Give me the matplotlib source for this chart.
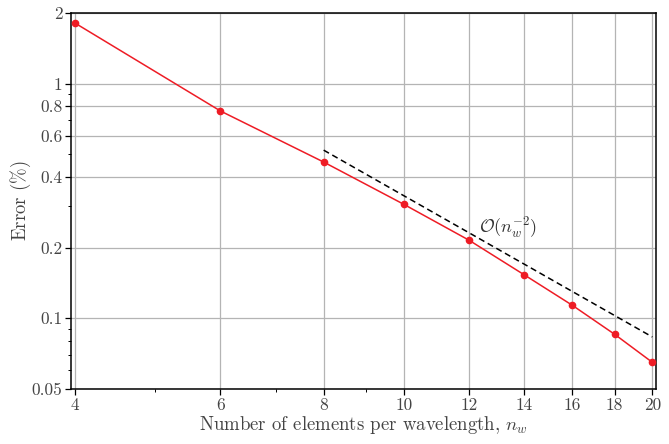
import matplotlib
matplotlib.use("Agg")
import matplotlib.pyplot as plt
import numpy as np
from matplotlib.ticker import FixedLocator, FixedFormatter, NullFormatter

plt.rcParams['font.family'] = 'serif'
plt.rcParams['font.serif'] = ['cmr10', 'DejaVu Serif']
plt.rcParams['mathtext.fontset'] = 'cm'
plt.rcParams['axes.unicode_minus'] = False

# elements per wavelength and error (%)
n_w = [4, 6, 8, 10, 12, 14, 16, 18, 20]
error = [1.81, 0.764, 0.463, 0.306, 0.215, 0.153, 0.1136, 0.0855, 0.0649]

# reference slope line
ref_n = [8, 20]
ref_c = 33.3

x_ticks = [4, 6, 8, 10, 12, 14, 16, 18, 20]
y_ticks = [0.05, 0.1, 0.2, 0.4, 0.6, 0.8, 1, 2]
y_labels = ['0.05', '0.1', '0.2', '0.4', '0.6', '0.8', '1', '2']

fig, ax = plt.subplots(figsize=(6.69, 4.44), dpi=100)
fig.subplots_adjust(left=0.106, right=0.981, top=0.971, bottom=0.124)

ref_x = np.array(ref_n, dtype=float)
ax.plot(ref_x, ref_c / ref_x**2, color='black', ls=(0, (4, 2.5)), lw=1.1, zorder=3)
ax.plot(n_w, error, color='#ee1c25', lw=1.1, marker='o', ms=4.5, zorder=4)

ax.text(12.35, 0.242, r'$\mathcal{O}(n_w^{-2})$', fontsize=13, color='#333333',
        va='center', ha='left')

ax.set_xscale('log')
ax.set_yscale('log')
ax.set_xlim(3.955, 20.22)
ax.set_ylim(0.05, 2)

ax.xaxis.set_major_locator(FixedLocator(x_ticks))
ax.xaxis.set_major_formatter(FixedFormatter([str(v) for v in x_ticks]))
ax.xaxis.set_minor_locator(FixedLocator([5, 7, 9]))
ax.xaxis.set_minor_formatter(NullFormatter())
ax.yaxis.set_major_locator(FixedLocator(y_ticks))
ax.yaxis.set_major_formatter(FixedFormatter(y_labels))
ax.yaxis.set_minor_locator(FixedLocator([0.06, 0.07, 0.08, 0.09, 0.3, 0.5, 0.7, 0.9]))
ax.yaxis.set_minor_formatter(NullFormatter())

ax.grid(True, which='major', color='#b4b4b4', lw=0.9)
ax.tick_params(which='major', length=4, width=0.9, labelsize=12.5, labelcolor='#444444', pad=2)
ax.tick_params(which='minor', length=2, width=0.7)
for s in ax.spines.values():
    s.set_linewidth(1.1)

ax.set_xlabel(r'Number of elements per wavelength, $n_w$', fontsize=13.5,
              color='#444444', labelpad=1)
ax.set_ylabel(r'Error $(\%)$', fontsize=13.5, color='#444444', labelpad=-1)

fig.savefig('out.png', dpi=100)
